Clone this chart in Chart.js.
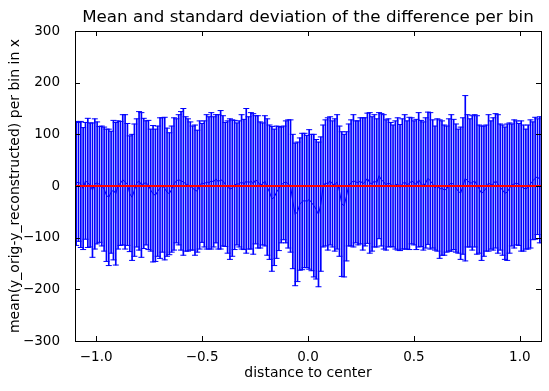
<!DOCTYPE html>
<html>
<head>
<meta charset="utf-8">
<script src="https://cdn.jsdelivr.net/npm/chart.js@4/dist/chart.umd.min.js"></script>
<style>
    html, body { margin: 0; padding: 0; background: #fff; }
    canvas { display: block; }
</style>
</head>
<body>
<canvas id="errChart" width="549" height="391"></canvas>
<script>
// Binning of the x axis (200 bins over [-1.1, 1.1])
const xMin = -1.1;
const xMax = 1.1;
const nBins = 200;

// Mean of the difference per bin
const meanDiff = [
    5, 8, 3, -5, 10, 6, 2, -8, 4, 6,
    3, 0, -6, -18, -22, -12, -8, -15, 2, 5,
    12, 8, 3, -15, -22, -8, 6, 10, 2, 5,
    6, 2, -8, -15, -18, -10, -4, 2, -5, -12,
    -15, -6, 4, 10, 12, 10, 8, 4, 2, 0,
    -4, -8, -10, 2, 6, 4, 8, 6, 10, 8,
    14, 8, 12, 10, 3, -2, -6, -4, 2, 4,
    4, 8, 3, 10, 6, 10, 4, 12, 8, 2,
    4, 10, -2, -12, -25, -22, -12, -5, 2, 6,
    8, 4, 0, -30, -55, -50, -35, -30, -28, -30,
    -26, -32, -38, -45, -55, -35, 0, 6, 4, 10,
    4, 2, 8, -10, -35, -38, -20, 2, 6, 10,
    8, 6, 10, 4, 8, 15, 6, 4, 10, 6,
    20, 12, 8, 2, 6, 3, 0, 2, 4, -3,
    4, 8, 2, 5, 10, 6, 3, 12, 5, 0,
    6, 15, 10, 4, -4, 2, -6, -4, -8, -6,
    2, 6, 3, -4, -10, -14, 0, 15, 10, 6,
    6, 10, 2, -6, -14, -10, -4, 6, 2, 4,
    10, 4, -2, -8, -14, -12, -4, 2, 4, 6,
    3, 0, -4, -6, -2, 4, 10, 15, 18, 12
];

// Standard deviation of the difference per bin
const stdDiff = [
    120, 115, 122, 118, 113, 125, 120, 130, 126, 118,
    112, 116, 120, 128, 132, 118, 135, 138, 124, 120,
    126, 130, 118, 112, 122, 128, 124, 134, 140, 126,
    120, 125, 118, 132, 128, 126, 136, 130, 138, 124,
    118, 122, 128, 120, 126, 134, 142, 130, 128, 124,
    120, 126, 118, 124, 115, 122, 130, 128, 132, 126,
    124, 130, 134, 126, 120, 128, 136, 132, 125, 118,
    122, 130, 126, 140, 128, 132, 136, 124, 128, 122,
    118, 126, 132, 130, 140, 132, 128, 120, 112, 110,
    118, 124, 128, 130, 138, 135, 128, 132, 130, 128,
    135, 132, 138, 135, 140, 130, 118, 122, 128, 124,
    122, 128, 130, 126, 140, 138, 125, 118, 122, 128,
    118, 120, 122, 128, 124, 126, 136, 130, 128, 124,
    122, 128, 130, 126, 124, 120, 118, 124, 128, 122,
    126, 130, 124, 128, 122, 120, 126, 130, 122, 124,
    126, 128, 132, 124, 120, 128, 134, 130, 126, 122,
    128, 132, 126, 124, 120, 128, 132, 160, 128, 124,
    130, 128, 134, 124, 130, 126, 122, 132, 124, 128,
    130, 134, 122, 126, 128, 132, 126, 118, 124, 120,
    118, 126, 122, 116, 120, 124, 114, 118, 112, 122
];

// Tick labels
const xTicks = [-1.0, -0.5, 0.0, 0.5, 1.0];
const yTicks = [-300, -200, -100, 0, 100, 200, 300];

// bin centres
const binWidth = (xMax - xMin) / nBins;
const binCenters = [];
for (let i = 0; i < nBins; i++) {
    binCenters.push(xMin + (i + 0.5) * binWidth);
}

const fmt = v => String(v).replace('-', '\u2212');

// frame on all sides with inward ticks, title centred over the axes
const framePlugin = {
    id: 'frame',
    afterDraw(chart) {
        const ctx = chart.ctx;
        const a = chart.chartArea;
        const xs = chart.scales.x;
        const ys = chart.scales.y;
        ctx.save();
        ctx.strokeStyle = '#000';
        ctx.lineWidth = 1;
        ctx.strokeRect(Math.round(a.left) + 0.5, Math.round(a.top) + 0.5,
            Math.round(a.right - a.left), Math.round(a.bottom - a.top));
        ctx.beginPath();
        xTicks.forEach(v => {
            const px = Math.round(xs.getPixelForValue(v)) + 0.5;
            ctx.moveTo(px, a.bottom); ctx.lineTo(px, a.bottom - 5);
            ctx.moveTo(px, a.top); ctx.lineTo(px, a.top + 5);
        });
        yTicks.forEach(v => {
            const py = Math.round(ys.getPixelForValue(v)) + 0.5;
            ctx.moveTo(a.left, py); ctx.lineTo(a.left + 5, py);
            ctx.moveTo(a.right, py); ctx.lineTo(a.right - 5, py);
        });
        ctx.stroke();

        ctx.fillStyle = '#000';
        ctx.font = '16.7px "DejaVu Sans"';
        ctx.textAlign = 'center';
        ctx.textBaseline = 'middle';
        ctx.fillText('Mean and standard deviation of the difference per bin', (a.left + a.right) / 2, 18);
        ctx.restore();
    }
};

const errCtx = document.getElementById('errChart').getContext('2d');
const errChart = new Chart(errCtx, {
    type: 'bar',
    data: {
        datasets: [
            {
                type: 'line',
                label: 'zero',
                data: [{ x: xMin, y: 0 }, { x: xMax, y: 0 }],
                borderColor: '#ff0000',
                borderWidth: 2,
                pointRadius: 0,
                order: 0
            },
            {
                type: 'line',
                label: 'mean',
                data: binCenters.map((x, i) => ({ x: x, y: meanDiff[i] })),
                borderColor: '#0000ff',
                borderWidth: 1,
                pointRadius: 0,
                tension: 0,
                order: 1
            },
            {
                type: 'line',
                label: 'upper cap',
                data: binCenters.map((x, i) => ({ x: x, y: meanDiff[i] + stdDiff[i] })),
                showLine: false,
                pointStyle: 'line',
                pointRadius: 3,
                pointBorderWidth: 1,
                pointBorderColor: '#0000ff',
                order: 2
            },
            {
                type: 'line',
                label: 'lower cap',
                data: binCenters.map((x, i) => ({ x: x, y: meanDiff[i] - stdDiff[i] })),
                showLine: false,
                pointStyle: 'line',
                pointRadius: 3,
                pointBorderWidth: 1,
                pointBorderColor: '#0000ff',
                order: 2
            },
            {
                type: 'bar',
                label: 'std',
                data: binCenters.map((x, i) => ({ x: x, y: [meanDiff[i] - stdDiff[i], meanDiff[i] + stdDiff[i]] })),
                backgroundColor: '#0000ff',
                borderWidth: 0,
                barThickness: 1,
                order: 3
            }
        ]
    },
    options: {
        responsive: false,
        animation: false,
        devicePixelRatio: 1,
        layout: {
            padding: { top: 31, right: 8, left: 0, bottom: 0 }
        },
        plugins: {
            legend: { display: false },
            tooltip: { enabled: false },
            title: { display: false }
        },
        scales: {
            x: {
                type: 'linear',
                min: xMin,
                max: xMax,
                offset: false,
                grid: { display: false, offset: false },
                border: { display: false },
                afterBuildTicks: scale => { scale.ticks = xTicks.map(v => ({ value: v })); },
                afterFit: scale => { scale.height = 50; },
                ticks: {
                    color: '#000',
                    padding: 0,
                    maxRotation: 0,
                    font: { family: 'DejaVu Sans', size: 13.5 },
                    callback: v => fmt(v.toFixed(1))
                },
                title: {
                    display: true,
                    text: 'distance to center',
                    color: '#000',
                    font: { family: 'DejaVu Sans', size: 14 },
                    padding: { top: 0, bottom: 9 }
                }
            },
            y: {
                min: -300,
                max: 300,
                grid: { display: false },
                border: { display: false },
                afterBuildTicks: scale => { scale.ticks = yTicks.map(v => ({ value: v })); },
                afterFit: scale => { scale.width = 75; },
                ticks: {
                    color: '#000',
                    padding: 7,
                    font: { family: 'DejaVu Sans', size: 13.5 },
                    callback: v => fmt(v)
                },
                title: {
                    display: true,
                    text: 'mean(y_orig-y_reconstructed) per bin in x',
                    color: '#000',
                    font: { family: 'DejaVu Sans', size: 14 },
                    padding: { top: 7, bottom: 0 }
                }
            }
        }
    },
    plugins: [framePlugin]
});
</script>
</body>
</html>
